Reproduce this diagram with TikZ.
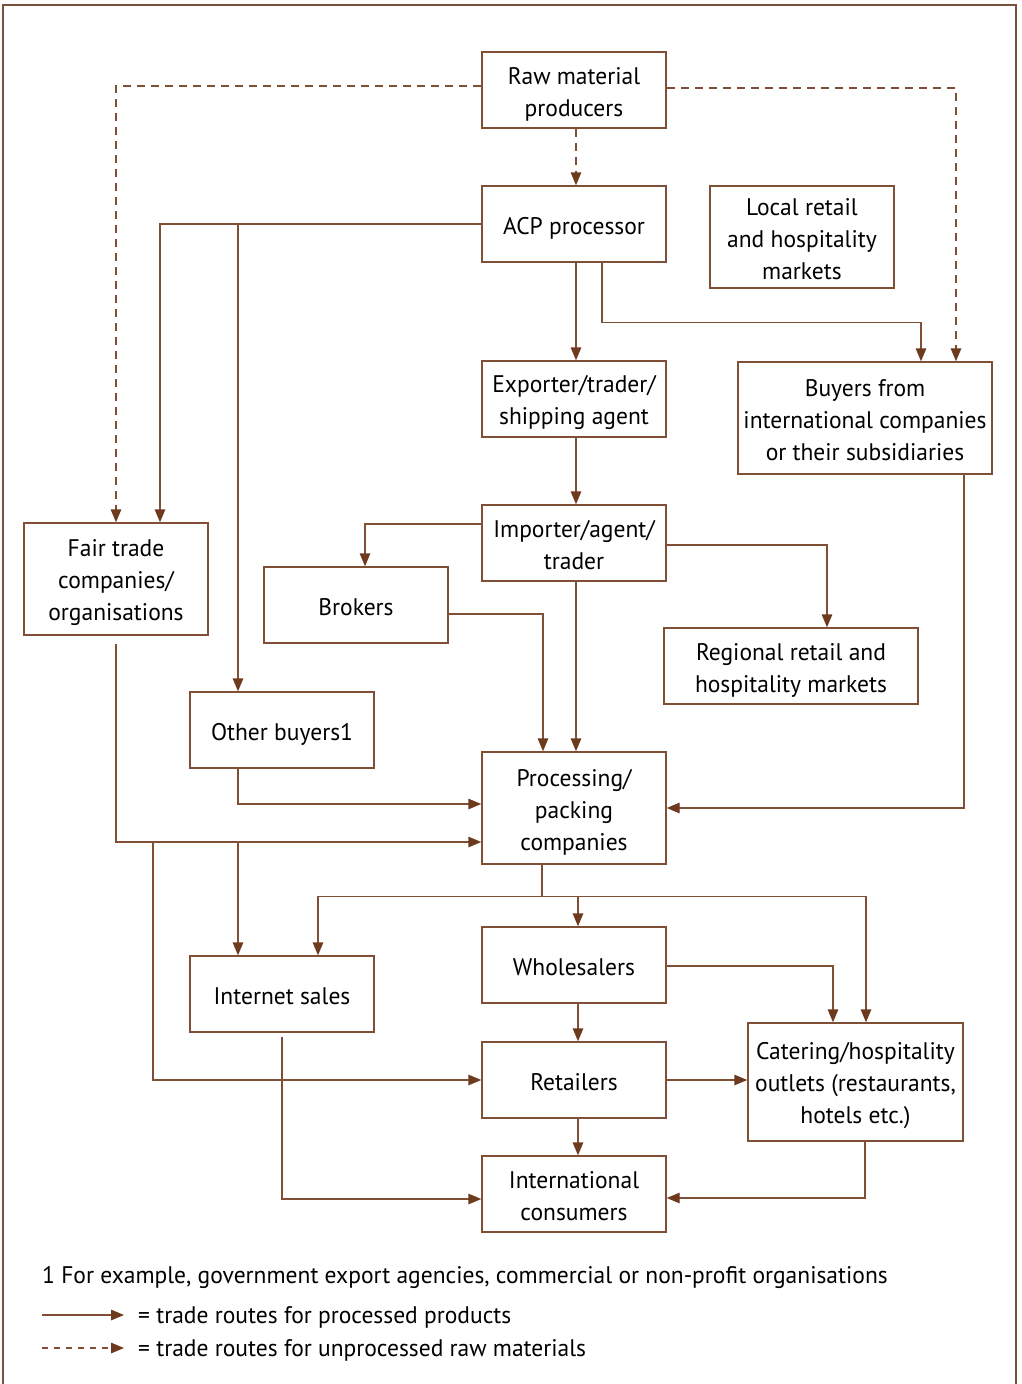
\documentclass[tikz,border=0pt]{standalone}
\usepackage{fontspec}
\setmainfont[FakeStretch=0.98]{PT Sans}
\usetikzlibrary{arrows.meta}
\definecolor{route}{RGB}{128,80,54}
\definecolor{tip}{RGB}{110,58,30}
\definecolor{frame}{RGB}{120,82,62}
% fixed struts so every box sets its lines at the same height
\newcommand{\topstrut}{\rule{0pt}{25pt}}
\newcommand{\botstrut}{\rule[-5pt]{0pt}{5pt}}
\begin{document}
\begin{tikzpicture}[x=1pt,y=-1pt,
  box/.style={draw=route,line width=1.4pt,fill=white,inner sep=0pt,
    minimum width=184pt,minimum height=76pt,align=center,
    font=\fontsize{24}{32}\selectfont},
  route/.style={draw=route,line width=1.4pt},
  arr/.style={route,-{Triangle[length=13pt,width=10.5pt,fill=tip,color=tip]}},
  darr/.style={arr,dash pattern=on 8pt off 6pt},
  txt/.style={inner sep=0pt,anchor=base west,font=\fontsize{24}{32}\selectfont}]
\useasboundingbox (0,0) rectangle (1021,1384);
% outer frame, open at the bottom
\draw[frame,line width=2pt] (3,1384) -- (3,5) -- (1016,5) -- (1016,1384);

% boxes
\node[box] (raw) at (574,90) {\topstrut Raw material\\producers\botstrut};
\node[box] (acp) at (574,224) {\topstrut ACP processor\botstrut};
\node[box,minimum height=102pt] (local) at (802,237) {\topstrut Local retail\\and hospitality\\markets\botstrut};
\node[box] (exp) at (574,399) {\topstrut Exporter/trader/\\shipping agent\botstrut};
\node[box,minimum width=254pt,minimum height=112pt] (buyers) at (865,418) {\topstrut Buyers from\\international companies\\or their subsidiaries\botstrut};
\node[box] (imp) at (574,543) {\topstrut Importer/agent/\\trader\botstrut};
\node[box,minimum height=112pt] (fair) at (116,579) {\topstrut Fair trade\\companies/\\organisations\botstrut};
\node[box] (brok) at (356,605) {\topstrut Brokers\botstrut};
\node[box,minimum width=254pt] (reg) at (791,666) {\topstrut Regional retail and\\hospitality markets\botstrut};
\node[box] (other) at (282,730) {\topstrut Other buyers1\botstrut};
\node[box,minimum height=112pt] (proc) at (574,808) {\topstrut Processing/\\packing\\companies\botstrut};
\node[box] (inet) at (282,994) {\topstrut Internet sales\botstrut};
\node[box] (whole) at (574,965) {\topstrut Wholesalers\botstrut};
\node[box,minimum width=215pt,minimum height=118pt] (cat) at (855.5,1082) {\topstrut Catering/hospitality\\outlets (restaurants,\\hotels etc.)\botstrut};
\node[box] (ret) at (574,1080) {\topstrut Retailers\botstrut};
\node[box] (intl) at (574,1194) {\topstrut International\\consumers\botstrut};

% raw material routes
\draw[darr] ([xshift=2pt]raw.south) -- ([xshift=2pt]acp.north);
\draw[darr] ([yshift=4pt]raw.west) -| (fair.north);
\draw[darr] ([yshift=2pt]raw.east) -| ([xshift=91pt]buyers.north);

% processed product routes
\draw[arr] ([xshift=2pt]acp.south) -- ([xshift=2pt]exp.north);
\draw[arr] ([xshift=28pt]acp.south) -- ++(0,60) -| ([xshift=56pt]buyers.north);
\draw[arr] (acp.west) -| ([xshift=44pt]fair.north);
\draw[arr] (acp.west) -| ([xshift=-44pt]other.north);
\draw[arr] ([xshift=2pt]exp.south) -- ([xshift=2pt]imp.north);
\draw[arr] ([yshift=19pt]imp.west) -| ([xshift=9pt]brok.north);
\draw[arr] ([yshift=-2pt]imp.east) -| ([xshift=36pt]reg.north);
\draw[arr] ([xshift=2pt]imp.south) -- ([xshift=2pt]proc.north);
\draw[arr] ([yshift=-9pt]brok.east) -| ([xshift=-31pt]proc.north);
\draw[arr] ([xshift=-44pt]other.south) |- ([yshift=4pt]proc.west);
\draw[arr] ([xshift=99pt]buyers.south) |- (proc.east);
\draw[arr] ([yshift=-8pt]fair.south) |- ([yshift=-34pt]proc.west);
\coordinate (fj1) at (238,842);
\coordinate (fj2) at (153,842);
\draw[arr] (fj1) -- ([xshift=-44pt]inet.north);
\draw[arr] (fj2) |- (ret.west);
\draw[route] ([xshift=-32pt]proc.south) -- ++(0,32) coordinate (pj);
\draw[arr] (pj) -| ([xshift=36pt]inet.north);
\draw[arr] (pj) -| ([xshift=4pt]whole.north);
\draw[arr] (pj) -| ([xshift=10.5pt]cat.north);
\draw[arr] ([yshift=-1pt]whole.east) -| ([xshift=-22.5pt]cat.north);
\draw[arr] ([xshift=4pt]whole.south) -- ([xshift=4pt]ret.north);
\draw[arr] (ret.east) -- (cat.west |- ret.east);
\draw[arr] ([xshift=4pt]ret.south) -- ([xshift=4pt]intl.north);
\draw[arr] ([yshift=-4pt]inet.south) |- ([yshift=-5pt]intl.west);
\draw[arr] ([xshift=9.5pt]cat.south) |- ([yshift=-4pt]intl.east);

% footnote and key
\node[txt] (note) at (42,1283) {1 For example, government export agencies, commercial or non-profit organisations};
\coordinate (k1a) at (42,1315);
\coordinate (k1b) at (124,1315);
\coordinate (k2a) at (42,1348);
\coordinate (k2b) at (124,1348);
\draw[arr] (k1a) -- (k1b);
\draw[arr,dash pattern=on 6pt off 6pt] (k2a) -- (k2b);
\node[txt] (key1) at (138,1323) {= trade routes for processed products};
\node[txt] (key2) at (138,1356) {= trade routes for unprocessed raw materials};
\end{tikzpicture}
\end{document}
